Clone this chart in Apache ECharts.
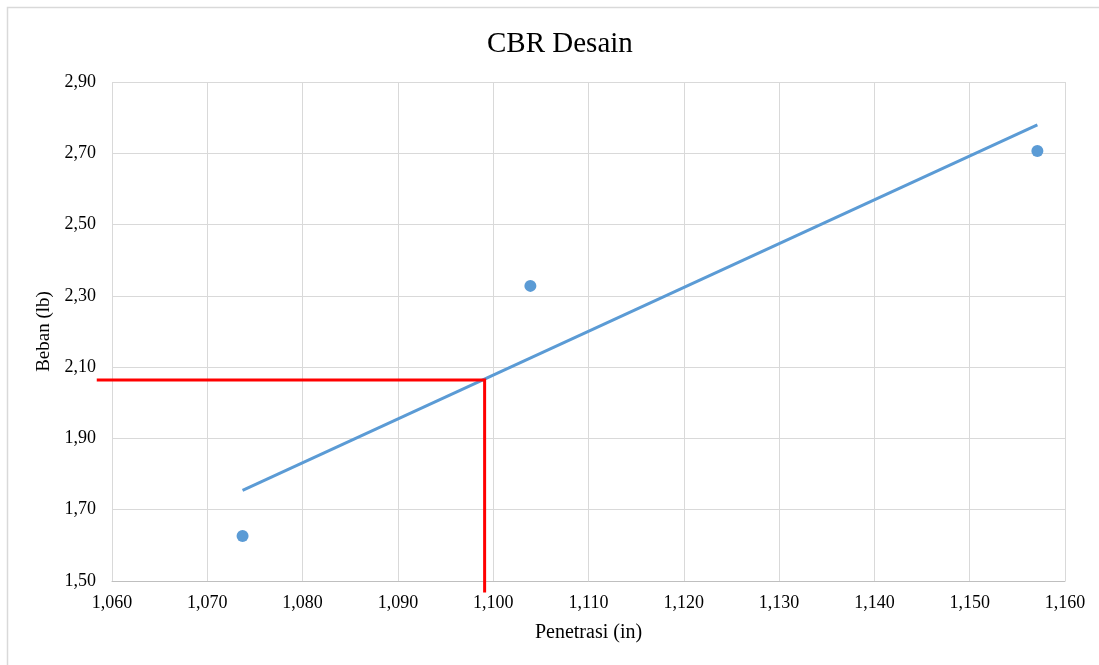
<!DOCTYPE html>
<html>
<head>
<meta charset="utf-8">
<script src="https://cdn.jsdelivr.net/npm/echarts@6/dist/echarts.min.js"></script>
<style>html,body{margin:0;padding:0;background:#fff}#c{width:1099px;height:665px}</style>
</head>
<body>
<div id="c"></div>
<script>
const titleText = 'CBR Desain';
const xName = 'Penetrasi (in)';
const yName = 'Beban (lb)';
const pointsX = [1.0737, 1.1039, 1.1571];
const pointsY = [1.626, 2.328, 2.7065];
const trendX = [1.0737, 1.1571];
const trendY = [1.754, 2.780];
const redX = [1.0584, 1.0991, 1.0991];
const redY = [2.064, 2.064, 1.468];

const fmt = (v, d) => v.toFixed(d).replace('.', ',');
const font = '"Liberation Serif", "Times New Roman", serif';

const chart = echarts.init(document.getElementById('c'), null, {renderer: 'canvas'});
chart.setOption({
  animation: false,
  backgroundColor: '#fff',
  graphic: [{type: 'rect', shape: {x: 7.5, y: 7.5, width: 1200, height: 800}, style: {fill: 'none', stroke: '#D9D9D9', lineWidth: 1.5}, z: -1}],
  title: {text: titleText, left: 482, top: 25, textStyle: {fontFamily: font, fontSize: 29, fontWeight: 'normal', color: '#000'}},
  grid: {left: 112, right: 34, top: 82, bottom: 84},
  xAxis: {
    type: 'value', min: 1.06, max: 1.16, interval: 0.01,
    name: xName, nameLocation: 'middle', nameGap: 42,
    nameTextStyle: {fontFamily: font, fontSize: 20, color: '#000'},
    axisLine: {show: true, lineStyle: {color: '#BFBFBF'}},
    axisTick: {show: false},
    axisLabel: {fontFamily: font, fontSize: 18, color: '#000', margin: 13, formatter: v => fmt(v, 3)},
    splitLine: {show: true, lineStyle: {color: '#D9D9D9'}}
  },
  yAxis: {
    type: 'value', min: 1.5, max: 2.9, interval: 0.2,
    name: yName, nameLocation: 'middle', nameGap: 55,
    nameTextStyle: {fontFamily: font, fontSize: 19, color: '#000'},
    axisLine: {show: false},
    axisTick: {show: false},
    axisLabel: {fontFamily: font, fontSize: 18, color: '#000', margin: 16, formatter: v => fmt(v, 2)},
    splitLine: {show: true, lineStyle: {color: '#D9D9D9'}}
  },
  series: [
    {type: 'line', data: trendX.map((x, i) => [x, trendY[i]]), showSymbol: false, lineStyle: {color: '#5B9BD5', width: 3}, z: 2},
    {type: 'scatter', data: pointsX.map((x, i) => [x, pointsY[i]]), symbolSize: 12, itemStyle: {color: '#5B9BD5', opacity: 1}, z: 3},
    {
      type: 'custom', clip: false, z: 4,
      data: [[0]],
      renderItem: (params, api) => {
        const pts = redX.map((x, i) => api.coord([x, redY[i]]));
        return {type: 'polyline', shape: {points: pts}, style: {stroke: '#FF0000', lineWidth: 3, fill: 'none'}};
      }
    }
  ]
});
</script>
</body>
</html>
